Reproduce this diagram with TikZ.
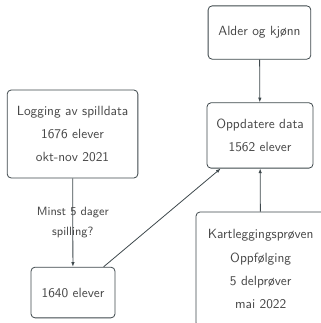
\documentclass[tikz,border=0pt]{standalone}
\usepackage{fontspec}
\usepackage{tikz}
\usetikzlibrary{arrows.meta,positioning}
\definecolor{boxline}{RGB}{62,72,76}
\definecolor{boxtext}{RGB}{70,70,70}

\begin{document}
\begin{tikzpicture}[
    x=1pt, y=1pt,
    >={Latex[length=3.5pt,width=2.6pt]},
    font=\sffamily\fontsize{10}{17.5}\selectfont,
    stage/.style={
		rectangle,
		rounded corners=3pt,
		draw=boxline,
		line width=0.6pt,
		text=boxtext,
		align=center,
		inner sep=2pt,
		fill=white
	},
	flow/.style={
		->,
		draw=boxline,
		line width=0.6pt
	},
	note/.style={
		font=\sffamily\fontsize{9}{15}\selectfont,
		text=boxtext,
		align=center,
		inner sep=0pt
	}
  ]
 \useasboundingbox (0,0) rectangle (240,-242.25);

 \node [stage, minimum width=98pt, minimum height=66pt] (logging) at (54.4,-100.5)
 {Logging av spilldata\\1676 elever\\okt-nov 2021};
 \node [stage, minimum width=63pt, minimum height=38pt] (utvalg) at (54.75,-219.4)
 {1640 elever};

 \node [stage, minimum width=77pt, minimum height=40pt] (bakgrunn) at (194.6,-24.4)
 {Alder og kjønn};
 \node [stage, minimum width=79.5pt, minimum height=49pt] (oppdatere) at (195,-101.6)
 {Oppdatere data\\1562 elever};
 % // cut off at the right and bottom edge
 \node [stage, minimum width=97pt, minimum height=86pt] (kartlegging) at (195.5,-202)
 {Kartleggingsprøven\\Oppfølging\\5 delprøver\\mai 2022};

 \draw [flow] (logging) -- node [note] {Minst 5 dager\\spilling?} (utvalg);
 \draw [flow] (utvalg) -- (oppdatere);
 \draw [flow] (bakgrunn) -- (oppdatere);
 \draw [flow] (kartlegging) -- (oppdatere);

\end{tikzpicture}
\end{document}
